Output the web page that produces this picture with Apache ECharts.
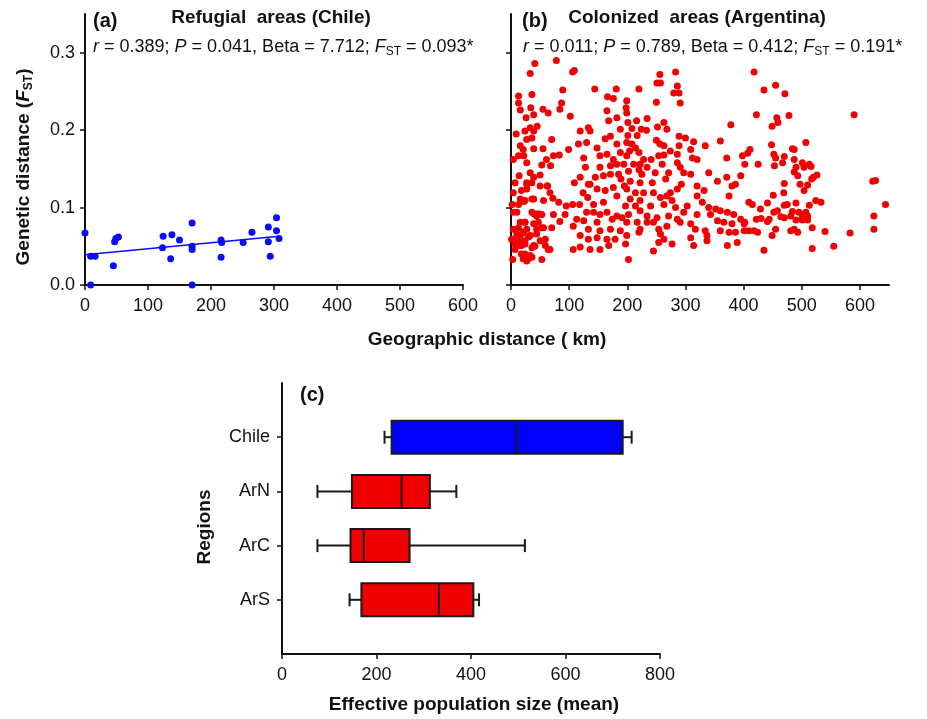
<!DOCTYPE html>
<html>
<head>
<meta charset="utf-8">
<script src="https://cdn.jsdelivr.net/npm/echarts@6/dist/echarts.min.js"></script>
<style>
html, body { margin: 0; padding: 0; background: #fff; }
#main { width: 927px; height: 719px; }
</style>
</head>
<body>
<div id="main"></div>
<script>
// panel (a) - refugial areas (Chile): [km, Fst]
var pointsA = [
    [0, 0.067], [9, 0.037], [16, 0.037], [9, 0.000], [45, 0.025], [47, 0.056], [49, 0.060], [53, 0.062],
    [124, 0.063], [123, 0.048], [138, 0.065], [136, 0.034], [150, 0.058], [170, 0.080], [170, 0.050],
    [170, 0.046], [170, 0.000], [216, 0.058], [217, 0.055], [216, 0.036], [251, 0.055], [265, 0.068],
    [291, 0.075], [291, 0.056], [294, 0.037], [304, 0.087], [304, 0.070], [308, 0.060]
];
var lineA = [[0, 0.039], [308, 0.063]];

// panel (b) - colonized areas (Argentina): [km, Fst]
var pointsB = [
    [41, 0.286], [78, 0.290], [33, 0.273], [109, 0.277], [106, 0.275], [13, 0.244], [36, 0.246], [89, 0.252],
    [144, 0.253], [181, 0.253], [166, 0.243], [176, 0.241], [13, 0.235], [16, 0.226], [34, 0.229], [55, 0.227],
    [64, 0.222], [87, 0.235], [84, 0.227], [102, 0.218], [26, 0.216], [39, 0.220], [165, 0.225], [182, 0.216],
    [168, 0.212], [45, 0.205], [33, 0.203], [9, 0.195], [24, 0.199], [39, 0.199], [119, 0.199], [133, 0.203],
    [136, 0.199], [188, 0.201], [70, 0.188], [27, 0.188], [36, 0.190], [16, 0.180], [21, 0.175], [39, 0.176],
    [55, 0.176], [99, 0.175], [116, 0.182], [130, 0.184], [148, 0.177], [162, 0.189], [171, 0.192], [182, 0.182],
    [4, 0.162], [13, 0.167], [22, 0.167], [27, 0.158], [61, 0.162], [73, 0.167], [83, 0.168], [125, 0.164],
    [153, 0.167], [165, 0.169], [176, 0.162], [188, 0.171], [53, 0.155], [68, 0.154], [128, 0.152], [153, 0.152],
    [171, 0.154], [182, 0.156], [194, 0.156], [33, 0.145], [39, 0.139], [50, 0.142], [14, 0.141], [7, 0.132],
    [27, 0.132], [36, 0.132], [109, 0.132], [119, 0.139], [133, 0.130], [145, 0.139], [159, 0.141], [171, 0.143],
    [185, 0.143], [189, 0.137], [50, 0.128], [63, 0.128], [67, 0.119], [124, 0.119], [136, 0.130], [148, 0.124],
    [162, 0.122], [176, 0.126], [195, 0.128], [18, 0.122], [27, 0.124], [4, 0.119], [16, 0.111], [39, 0.111],
    [56, 0.109], [72, 0.112], [132, 0.113], [142, 0.104], [159, 0.107], [182, 0.115], [2, 0.104], [22, 0.108],
    [10, 0.094], [4, 0.094], [36, 0.094], [44, 0.089], [53, 0.091], [73, 0.091], [93, 0.091], [82, 0.107],
    [95, 0.102], [106, 0.104], [118, 0.104], [130, 0.094], [142, 0.094], [153, 0.091], [165, 0.094], [182, 0.089],
    [113, 0.085], [125, 0.083], [148, 0.081], [174, 0.085], [191, 0.087], [16, 0.081], [24, 0.081], [39, 0.079],
    [56, 0.074], [84, 0.082], [107, 0.076], [133, 0.072], [153, 0.070], [171, 0.072], [188, 0.070], [4, 0.072],
    [10, 0.066], [21, 0.068], [33, 0.064], [44, 0.066], [70, 0.074], [119, 0.064], [148, 0.061], [165, 0.059],
    [179, 0.059], [1, 0.059], [7, 0.055], [13, 0.051], [24, 0.053], [39, 0.051], [50, 0.057], [59, 0.051],
    [67, 0.046], [107, 0.046], [119, 0.049], [133, 0.059], [136, 0.046], [153, 0.046], [168, 0.051], [7, 0.046],
    [18, 0.040], [33, 0.038], [53, 0.033], [27, 0.031], [3, 0.033], [13, 0.057],
    [4, 0.059], [7, 0.053], [16, 0.064], [21, 0.068], [27, 0.072], [30, 0.062], [18, 0.051], [24, 0.057],
    [36, 0.048], [41, 0.050], [44, 0.072], [47, 0.081], [39, 0.092], [47, 0.092], [21, 0.034], [30, 0.034],
    [36, 0.036], [24, 0.040], [13, 0.074], [24, 0.081], [59, 0.059], [64, 0.046], [53, 0.074], [27, 0.130],
    [62, 0.128], [13, 0.104], [24, 0.109], [36, 0.111],
    [256, 0.272], [283, 0.275], [251, 0.261], [257, 0.261], [286, 0.257], [220, 0.253], [280, 0.248], [289, 0.248],
    [291, 0.235], [250, 0.236], [199, 0.238], [198, 0.229], [199, 0.222], [201, 0.210], [216, 0.212], [234, 0.215],
    [263, 0.210], [252, 0.204], [378, 0.207], [208, 0.202], [224, 0.201], [233, 0.200], [217, 0.193], [201, 0.193],
    [268, 0.201], [289, 0.192], [300, 0.190], [314, 0.185], [360, 0.186], [334, 0.180], [199, 0.184], [208, 0.182],
    [214, 0.177], [250, 0.187], [256, 0.182], [263, 0.180], [274, 0.173], [289, 0.180], [309, 0.175], [204, 0.173],
    [220, 0.171], [228, 0.162], [241, 0.162], [254, 0.167], [263, 0.168], [286, 0.169], [312, 0.164], [320, 0.162],
    [371, 0.164], [398, 0.167], [199, 0.167], [211, 0.156], [222, 0.156], [234, 0.152], [260, 0.156], [286, 0.158],
    [291, 0.152], [202, 0.147], [220, 0.149], [225, 0.143], [248, 0.145], [271, 0.145], [297, 0.145], [309, 0.143],
    [340, 0.145], [395, 0.141], [355, 0.134], [371, 0.139], [386, 0.130], [380, 0.128], [293, 0.130], [205, 0.134],
    [222, 0.132], [243, 0.132], [266, 0.137], [199, 0.124], [214, 0.119], [228, 0.119], [245, 0.119], [274, 0.119],
    [286, 0.124], [320, 0.128], [332, 0.122], [375, 0.115], [205, 0.111], [222, 0.109], [257, 0.113], [268, 0.115],
    [277, 0.109], [320, 0.115], [329, 0.107], [197, 0.102], [214, 0.102], [240, 0.102], [263, 0.104], [283, 0.100],
    [303, 0.102], [340, 0.100], [352, 0.098], [360, 0.096], [372, 0.094], [383, 0.091], [202, 0.091], [222, 0.096],
    [234, 0.089], [251, 0.087], [271, 0.089], [297, 0.094], [320, 0.091], [343, 0.091], [395, 0.085], [199, 0.081],
    [217, 0.081], [234, 0.081], [245, 0.081], [286, 0.085], [291, 0.081], [309, 0.079], [355, 0.083], [366, 0.081],
    [380, 0.079], [401, 0.079], [222, 0.072], [254, 0.072], [268, 0.076], [317, 0.072], [334, 0.070], [360, 0.070],
    [375, 0.068], [386, 0.068], [199, 0.064], [220, 0.068], [257, 0.066], [263, 0.059], [309, 0.061], [337, 0.064],
    [337, 0.057], [254, 0.055], [277, 0.053], [314, 0.051], [372, 0.051], [389, 0.055], [197, 0.053], [245, 0.044],
    [202, 0.033],
    [418, 0.275], [455, 0.258], [435, 0.252], [471, 0.247], [422, 0.220], [478, 0.219], [590, 0.220], [457, 0.216],
    [459, 0.210], [449, 0.205], [507, 0.184], [448, 0.181], [411, 0.175], [407, 0.170], [484, 0.176], [487, 0.175],
    [452, 0.169], [455, 0.164], [470, 0.166], [467, 0.158], [487, 0.162], [501, 0.158], [513, 0.156], [402, 0.156],
    [425, 0.156], [453, 0.154], [504, 0.152], [516, 0.153], [490, 0.152], [487, 0.146], [493, 0.141], [520, 0.139],
    [526, 0.142], [517, 0.137], [497, 0.130], [510, 0.129], [470, 0.131], [504, 0.122], [451, 0.116], [469, 0.119],
    [409, 0.107], [415, 0.104], [441, 0.106], [470, 0.103], [475, 0.104], [490, 0.106], [513, 0.103], [524, 0.109],
    [533, 0.107], [429, 0.098], [452, 0.094], [458, 0.096], [484, 0.095], [495, 0.094], [507, 0.094], [501, 0.089],
    [510, 0.089], [481, 0.089], [422, 0.085], [430, 0.086], [444, 0.085], [464, 0.088], [470, 0.087], [490, 0.084],
    [501, 0.084], [510, 0.084], [402, 0.081], [441, 0.082], [455, 0.072], [481, 0.070], [487, 0.072], [493, 0.068],
    [401, 0.070], [409, 0.070], [418, 0.070], [424, 0.068], [449, 0.064], [518, 0.074], [540, 0.069], [583, 0.067],
    [435, 0.045], [518, 0.047], [555, 0.050],
    [622, 0.134], [627, 0.135], [624, 0.089], [624, 0.072], [644, 0.104]
];

// panel (c) - effective population size: [lower whisker, Q1, median, Q3, upper whisker]
var regions = ['ArS', 'ArC', 'ArN', 'Chile'];
var boxStats = [
    [143, 168, 332, 405, 417],
    [75, 145, 173, 270, 514],
    [75, 148, 253, 313, 369],
    [217, 232, 496, 721, 740]
];
var boxColors = ['#f00000', '#f00000', '#f00000', '#0000ff'];

var fstTicks = [0, 0.1, 0.2, 0.3];
var kmTicks = [0, 100, 200, 300, 400, 500, 600];

var FONT = 'Liberation Sans, Arial, sans-serif';
var axisLineStyle = { show: true, lineStyle: { color: '#111', width: 2 } };
var tickStyle = { show: true, length: 5, lineStyle: { color: '#111', width: 1.5 } };
var labelStyle = { color: '#111', fontSize: 18, fontFamily: FONT };

var myChart = echarts.init(document.getElementById('main'));

var boxData = boxStats.map(function (s, i) {
    return [regions[i]].concat(s);
});

//箱线图
function renderBox(params, api) {
    var idx = api.value(0);
    var lo = api.coord([api.value(1), idx]);
    var q1 = api.coord([api.value(2), idx]);
    var med = api.coord([api.value(3), idx]);
    var q3 = api.coord([api.value(4), idx]);
    var hi = api.coord([api.value(5), idx]);
    var y = lo[1];
    var h = 33, c = 6.5;
    var st = { stroke: '#1a1a1a', lineWidth: 2, fill: null };
    return {
        type: 'group',
        children: [
            { type: 'line', shape: { x1: lo[0], y1: y, x2: q1[0], y2: y }, style: st },
            { type: 'line', shape: { x1: q3[0], y1: y, x2: hi[0], y2: y }, style: st },
            { type: 'line', shape: { x1: lo[0], y1: y - c, x2: lo[0], y2: y + c }, style: st },
            { type: 'line', shape: { x1: hi[0], y1: y - c, x2: hi[0], y2: y + c }, style: st },
            { type: 'rect', shape: { x: q1[0], y: y - h / 2, width: q3[0] - q1[0], height: h },
              style: { fill: boxColors[params.dataIndex], stroke: '#1a1a1a', lineWidth: 2 } },
            { type: 'line', shape: { x1: med[0], y1: y - h / 2, x2: med[0], y2: y + h / 2 }, style: st }
        ]
    };
}

var statRich = {
    i: { fontStyle: 'italic', fontSize: 18, fontFamily: FONT, fill: '#111' },
    s: { fontSize: 12, fontFamily: FONT, fill: '#111', padding: [9, 0, 0, 0] }
};

myChart.setOption({
    animation: false,
    backgroundColor: '#fff',
    grid: [
        { left: 85, width: 378, top: 14, height: 271 },
        { left: 511, width: 378, top: 14, height: 271 },
        { left: 282, width: 378, top: 383, height: 271 }
    ],
    xAxis: [
        {
            gridIndex: 0, type: 'value', min: 0, max: 600,
            axisLine: axisLineStyle, axisTick: Object.assign({ customValues: kmTicks }, tickStyle),
            axisLabel: Object.assign({ customValues: kmTicks, margin: 12 }, labelStyle),
            splitLine: { show: false }
        },
        {
            gridIndex: 1, type: 'value', min: 0, max: 650,
            axisLine: axisLineStyle, axisTick: Object.assign({ customValues: kmTicks }, tickStyle),
            axisLabel: Object.assign({ customValues: kmTicks, margin: 12 }, labelStyle),
            splitLine: { show: false }
        },
        {
            gridIndex: 2, type: 'value', min: 0, max: 800, interval: 200,
            axisLine: axisLineStyle, axisTick: tickStyle,
            axisLabel: Object.assign({ margin: 12 }, labelStyle),
            splitLine: { show: false }
        }
    ],
    yAxis: [
        {
            gridIndex: 0, type: 'value', min: 0, max: 0.35,
            axisLine: axisLineStyle, axisTick: Object.assign({ customValues: fstTicks }, tickStyle),
            axisLabel: Object.assign({
                customValues: fstTicks, margin: 10,
                formatter: function (v) { return v.toFixed(1); }
            }, labelStyle),
            splitLine: { show: false }
        },
        {
            gridIndex: 1, type: 'value', min: 0, max: 0.35,
            axisLine: axisLineStyle, axisTick: Object.assign({ customValues: fstTicks }, tickStyle),
            axisLabel: { show: false },
            splitLine: { show: false }
        },
        {
            gridIndex: 2, type: 'category', boundaryGap: false,
            data: [' '].concat(regions, ['  ']),
            axisLine: axisLineStyle,
            axisTick: Object.assign({ interval: function (i) { return i >= 1 && i <= 4; } }, tickStyle),
            axisLabel: Object.assign({ margin: 12, interval: 0 }, labelStyle),
            splitLine: { show: false }
        }
    ],
    series: [
        {
            type: 'scatter', xAxisIndex: 0, yAxisIndex: 0, data: pointsA,
            symbolSize: 7, itemStyle: { color: '#0a0aff', opacity: 1 }, z: 3
        },
        {
            type: 'line', xAxisIndex: 0, yAxisIndex: 0, data: lineA,
            showSymbol: false, lineStyle: { color: '#0a0aff', width: 1.5 }, z: 2
        },
        {
            type: 'scatter', xAxisIndex: 1, yAxisIndex: 1, data: pointsB,
            symbolSize: 7, itemStyle: { color: '#f00000', opacity: 1 }
        },
        {
            type: 'custom', xAxisIndex: 2, yAxisIndex: 2, data: boxData,
            encode: { x: [1, 2, 3, 4, 5], y: 0 },
            renderItem: renderBox
        }
    ],
    graphic: [
        { type: 'text', x: 93, y: 21, style: { text: '(a)', font: 'bold 20px ' + FONT, fill: '#111', verticalAlign: 'middle' } },
        { type: 'text', x: 271, y: 18, style: { text: 'Refugial  areas (Chile)', font: 'bold 19px ' + FONT, fill: '#111', align: 'center', verticalAlign: 'middle' } },
        { type: 'text', x: 93, y: 47, style: {
            text: '{i|r} = 0.389; {i|P} = 0.041, Beta = 7.712; {i|F}{s|ST} = 0.093*',
            rich: statRich, font: '18px ' + FONT, fill: '#111', verticalAlign: 'middle' } },
        { type: 'text', x: 522, y: 21, style: { text: '(b)', font: 'bold 20px ' + FONT, fill: '#111', verticalAlign: 'middle' } },
        { type: 'text', x: 697, y: 18, style: { text: 'Colonized  areas (Argentina)', font: 'bold 19px ' + FONT, fill: '#111', align: 'center', verticalAlign: 'middle' } },
        { type: 'text', x: 523, y: 47, style: {
            text: '{i|r} = 0.011; {i|P} = 0.789, Beta = 0.412; {i|F}{s|ST} = 0.191*',
            rich: statRich, font: '18px ' + FONT, fill: '#111', verticalAlign: 'middle' } },
        { type: 'text', x: 24, y: 167, rotation: Math.PI / 2, style: {
            text: 'Genetic distance ({b|F}{s|ST})',
            rich: {
                b: { fontStyle: 'italic', fontWeight: 'bold', fontSize: 19, fontFamily: FONT, fill: '#111' },
                s: { fontWeight: 'bold', fontSize: 12, fontFamily: FONT, fill: '#111', padding: [9, 0, 0, 0] }
            },
            font: 'bold 19px ' + FONT, fill: '#111', align: 'center', verticalAlign: 'middle' } },
        { type: 'text', x: 487, y: 340, style: { text: 'Geographic distance ( km)', font: 'bold 19px ' + FONT, fill: '#111', align: 'center', verticalAlign: 'middle' } },
        { type: 'text', x: 300, y: 395, style: { text: '(c)', font: 'bold 20px ' + FONT, fill: '#111', verticalAlign: 'middle' } },
        { type: 'text', x: 205, y: 527, rotation: Math.PI / 2, style: { text: 'Regions', font: 'bold 19px ' + FONT, fill: '#111', align: 'center', verticalAlign: 'middle' } },
        { type: 'text', x: 474, y: 705, style: { text: 'Effective population size (mean)', font: 'bold 19px ' + FONT, fill: '#111', align: 'center', verticalAlign: 'middle' } }
    ]
});
</script>
</body>
</html>
